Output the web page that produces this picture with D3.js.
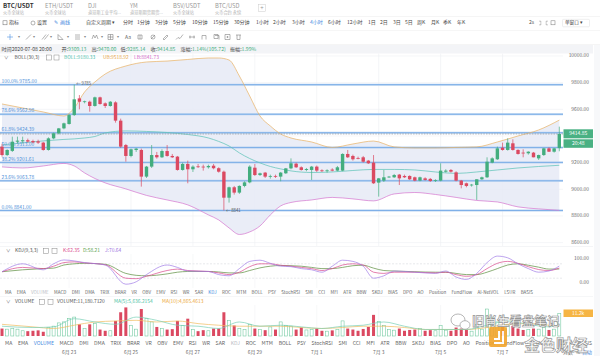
<!DOCTYPE html>
<html><head><meta charset="utf-8">
<script src="https://cdn.jsdelivr.net/npm/d3@7"></script>
<style>
html,body{margin:0;padding:0;background:#fff;}
svg{display:block;font-family:"Noto Sans CJK SC","Noto Sans",sans-serif;}
</style></head><body>
<svg id="c" width="600" height="356"></svg>
<script>
// ---------------- DATA ----------------
// 4h candles, 2020-06-20 20:00 .. 2020-07-08 20:00  [open, high, low, close]
const ohlc = [
[9320,9340,9245,9257],[9257,9300,9250,9295],[9288,9395,9280,9357],[9357,9395,9345,9365],[9360,9395,9345,9368],
[9368,9380,9350,9358],[9362,9372,9345,9352],[9360,9372,9340,9350],[9350,9356,9290,9295],[9295,9390,9290,9382],
[9382,9425,9375,9420],[9420,9460,9412,9457],[9457,9500,9450,9495],[9490,9565,9485,9557],[9557,9785,9550,9675],
[9682,9707,9600,9657],[9655,9665,9645,9660],[9657,9665,9582,9625],[9625,9695,9620,9690],[9690,9695,9635,9640],
[9645,9652,9610,9625],[9625,9662,9620,9657],[9652,9660,9500,9515],[9515,9530,9310,9320],[9332,9340,9207,9250],
[9250,9305,9240,9300],[9295,9310,9280,9305],[9295,9305,9020,9095],[9095,9175,9085,9170],[9170,9332,9160,9257],
[9257,9280,9230,9240],[9240,9300,9235,9287],[9287,9332,9245,9250],[9250,9265,9235,9240],[9245,9250,9140,9145],
[9145,9200,9140,9190],[9190,9215,9045,9150],[9150,9180,9130,9170],[9172,9190,9160,9168],[9170,9185,9140,9165],
[9165,9185,9155,9175],[9177,9190,9150,9158],[9158,9165,9125,9132],[9132,9140,8841,8937],[8937,9020,8900,9015],
[9015,9025,8960,8975],[8975,9030,8965,9025],[9025,9060,9015,9052],[9052,9180,9045,9170],[9162,9190,9100,9107],
[9107,9125,9100,9120],[9125,9130,9085,9095],[9095,9110,9080,9100],[9100,9110,9085,9098],[9095,9130,9060,9125],
[9120,9160,9115,9157],[9157,9232,9150,9195],[9192,9200,9160,9165],[9165,9172,9140,9145],[9145,9160,9135,9152],
[9145,9175,9070,9170],[9170,9178,9130,9140],[9142,9150,9130,9138],[9138,9150,9125,9142],[9148,9158,9135,9140],
[9140,9175,9135,9165],[9140,9270,9135,9265],[9265,9295,9235,9240],[9250,9260,9215,9225],[9235,9245,9225,9232],
[9240,9250,9200,9207],[9215,9220,9190,9195],[9200,9257,9040,9045],[9050,9085,8945,9082],[9065,9145,9055,9090],
[9092,9100,9085,9095],[9090,9115,9085,9107],[9110,9115,9032,9082],[9100,9110,9085,9090],[9100,9105,9070,9075],
[9090,9095,9060,9065],[9065,9095,9060,9090],[9082,9090,9065,9070],[9078,9085,9055,9062],[9065,9075,9055,9068],
[9065,9195,9060,9140],[9132,9150,9125,9140],[9145,9152,9125,9132],[9127,9135,9060,9065],[9065,9070,9007,9032],
[9045,9050,9015,9025],[9030,9040,9020,9035],[9032,9075,8920,9075],[9075,9095,9070,9090],[9090,9240,9085,9207],
[9200,9240,9195,9232],[9225,9320,9220,9307],[9312,9350,9290,9295],[9295,9382,9290,9350],[9345,9375,9290,9295],
[9295,9300,9260,9265],[9275,9300,9240,9270],[9270,9285,9260,9282],[9275,9280,9240,9240],[9232,9260,9220,9257],
[9257,9310,9250,9307],[9307,9315,9280,9282],[9282,9310,9275,9307],[9309.13,9470,9285.14,9414.85]
];
const volume = [
3700,3400,3700,3400,2600,2400,2600,2800,2100,4200,4900,6500,7000,8600,9400,5800,3700,5800,6200,3200,
2600,2600,7500,11800,14200,5300,3400,13400,8600,7000,4500,3700,3200,3400,7500,5300,8600,3200,2400,2900,
2600,3700,3700,11800,7800,5200,3700,3200,5800,3700,3200,2900,4500,3200,7000,5300,4900,3200,4200,3000,
3200,3700,2600,2400,2800,3200,7500,3700,3200,2600,3500,4500,10500,7200,5300,3200,2900,3700,2600,3000,
3200,3700,2600,2900,2600,5300,2900,2600,4200,3700,3000,2400,5800,3400,13400,9400,7000,4500,5500,5000,
3700,3000,3200,3700,3400,4200,3000,3400,11180
];
const bollIdx   = [0,4,8,12,14,16,18,20,24,28,32,36,40,42,44,46,48,50,52,54,56,60,64,68,72,76,80,84,88,92,96,100,104,108];
const bollUpper = [9640,9610,9580,9550,9610,9730,9805,9865,9925,9955,9962,9974,9985,9985,9970,9850,9700,9550,9475,9415,9385,9355,9314,9340,9362,9318,9310,9310,9314,9318,9355,9400,9445,9519];
const bollMid   = [9333,9348,9363,9374,9378,9385,9396,9423,9438,9434,9426,9411,9385,9359,9325,9273,9231,9198,9171,9153,9138,9126,9130,9141,9149,9149,9145,9130,9119,9130,9145,9160,9171,9180];
const bollLower = [9168,9160,9175,9194,9175,9123,9081,9048,9003,8954,8920,8883,8808,8770,8710,8661,8680,8725,8808,8875,8901,8920,8939,8928,8913,8965,8976,8961,8939,8916,8905,8868,8853,8842];
// KDJ(9,3,3) sampled
const kdjIdx = [0,4,8,10,12,14,16,20,24,26,28,32,34,36,40,42,44,46,48,50,52,54,56,58,60,62,64,66,68,70,72,74,76,80,84,86,88,90,92,94,96,98,100,102,104,106,108];
const kdjK = [47,65,60,70,85,88,84,76,20,18,28,52,58,52,48,42,35,45,68,80,80,74,70,65,60,52,60,75,80,75,45,40,45,45,42,45,35,28,35,60,82,90,82,68,56,52,62.35];
const kdjD = [47,55,60,62,75,80,82,78,40,32,30,38,45,48,48,46,42,42,52,63,70,73,72,70,65,60,60,65,72,74,62,52,50,47,45,45,40,35,35,45,60,75,80,74,66,58,58.21];
const kdjJ = [47,80,55,80,96,92,85,75,-5,5,35,75,65,50,48,35,30,60,90,95,82,70,68,60,55,45,70,95,90,70,20,30,50,45,40,50,25,15,40,85,112,105,80,60,45,50,70.64];
// volume MA lines sampled
const vmaIdx = [0,6,10,14,18,22,26,30,34,38,42,46,50,54,58,62,66,70,74,78,82,86,90,94,98,102,106,108];
const vma5  = [4860,4200,4540,8590,6970,5800,9400,7780,5350,4860,3730,6970,4860,5350,4540,3730,4860,5350,6970,4860,3240,3240,3240,5350,7450,5800,4540,5636];
const vma10 = [5800,4540,3730,5350,6970,7450,7780,6970,7450,6160,5350,4860,4860,4860,4210,3730,4210,4860,4860,4210,3240,3240,3240,4210,5800,6160,5350,4865];
// fibonacci levels
const fibValues = [9785,9562.98,9424.39,9313,9201.61,9063.78,8841];
const fibLabels = ["100.0% 9785.00","78.6% 9562.98","61.8% 9424.39","50.0% 9313.00","38.2% 9201.61","23.6% 9063.78","0.0% 8841.00"];
const priceTicks = [10000,9800,9600,9400,9200,9000,8800,8600];
const dateTickIdx = [13,25,37,49,61,73,85,97];
const dateTickLabels = ["6月 23","6月 25","6月 27","6月 29","7月 1","7月 3","7月 5","7月 7"];
const tabs = [["BTC/USDT","火币全球站"],["ETH/USDT","火币全球站"],["DJI","道琼斯工业平均..."],["YM","道琼斯期货期货..."],["BSV/USDT","火币全球站"],["BTC/USD","火币合约 永续"]];
const periods = ["分时","1分钟","3分钟","5分钟","10分钟","15分钟","30分钟","1小时","2小时","3小时","4小时","6小时","12小时","1日","2日","3日","5日","周K","月K","季K","年K"];
const indicators = ["MA","EMA","VOLUME","MACD","DMI","DMA","TRIX","BRAR","VR","OBV","EMV","RSI","WR","SAR","KDJ","ROC","MTM","BOLL","PSY","StochRSI","SMI","CCI","MFI","ATR","BBW","SKDJ","BIAS","DPO","AO","Position","FundFlow","AI-NetVOL","LSUR","BASIS"];

// ---------------- DRAW ----------------
const svg = d3.select("#c");
const GREEN = "#43ad7e", RED = "#db4961", BLUE = "#3f8ae0", GREY = "#8a8f99", DARK = "#4a4f59";
const x = d3.scaleLinear().domain([0,108]).range([2,559.3]);
const y = d3.scaleLinear().domain([8600,10000]).range([242.6,56]);
const yk = d3.scaleLinear().domain([0,100]).range([283,259]);
const yv = d3.scaleLinear().domain([0,11180]).range([336,313.5]);
const PR = 563; // plot right edge

function txt(g, x0, y0, s, o={}) {
  return g.append("text").attr("x",x0).attr("y",y0).text(s)
    .attr("font-size",o.size||5).attr("fill",o.fill||DARK)
    .attr("font-weight",o.weight||"normal")
    .attr("text-anchor",o.anchor||"start").attr("dominant-baseline","middle");
}

svg.append("rect").attr("width",600).attr("height",356).attr("fill","#fff");

// ---- tabs
const hdr = svg.append("g");
const tabX = [3,45,88,130,173,215];
tabs.forEach((t,i)=>{
  txt(hdr, tabX[i], 6, t[0], {size:i===0?6.2:5.8, fill:i===0?"#333":"#999", weight:i===0?"bold":"normal"});
  txt(hdr, tabX[i], 12.5, t[1], {size:4.2, fill:"#b0b0b0"});
});
hdr.append("rect").attr("x",258.5).attr("y",4.5).attr("width",7).attr("height",7).attr("fill","#fff").attr("stroke","#ccc").attr("stroke-width",0.5);
txt(hdr,262,8.2,"+",{size:6,fill:"#999",anchor:"middle"});
hdr.append("line").attr("x1",0).attr("x2",600).attr("y1",16.5).attr("y2",16.5).attr("stroke","#eee").attr("stroke-width",0.6);

// ---- toolbar
const tb = svg.append("g");
tb.append("rect").attr("x",3).attr("y",20.8).attr("width",4).attr("height",4).attr("fill","none").attr("stroke","#666").attr("stroke-width",0.5);
txt(tb,9,23,"指标",{size:5,fill:"#444"});
tb.append("circle").attr("cx",33).attr("cy",23).attr("r",2).attr("fill","none").attr("stroke","#666").attr("stroke-width",0.5);
txt(tb,37,23,"设置",{size:5,fill:"#444"});
txt(tb,54,23,"✎",{size:5,fill:BLUE});
txt(tb,60,23,"画线",{size:5,fill:BLUE});
txt(tb,86,23,"自定义周期 ▾",{size:5,fill:"#444"});
const periodX = [123,137,155,173,192,213,234,256,273,292,310,328,347,368,380,393,405,417,431,443,457];
periods.forEach((p,i)=>txt(tb,periodX[i],23,p,{size:5,fill:p==="4小时"?BLUE:"#444"}));
txt(tb,529,23,"2s",{size:5,fill:"#555"});
tb.append("path").attr("d","M540,20.5v1.5h1.5 M547,20.5v1.5h-1.5 M540,25.5v-1.5h1.5 M547,25.5v-1.5h-1.5").attr("stroke","#777").attr("stroke-width",0.5).attr("fill","none");
tb.append("rect").attr("x",551).attr("y",20.8).attr("width",4).attr("height",4).attr("fill","none").attr("stroke","#777").attr("stroke-width",0.5);
tb.append("rect").attr("x",562.5).attr("y",19.3).attr("width",27).attr("height",7.5).attr("rx",1).attr("fill","#fff").attr("stroke","#ddd").attr("stroke-width",0.5);
txt(tb,565,23.1,"单窗口 ▾",{size:4.6,fill:"#444"});
tb.append("line").attr("x1",0).attr("x2",600).attr("y1",30.5).attr("y2",30.5).attr("stroke","#f0f0f0").attr("stroke-width",0.6);

// ---- drawing tools row
const dt = svg.append("g").attr("fill","none").attr("stroke","#777").attr("stroke-width",0.55);
dt.append("path").attr("d","M10,34v6 M7,37h6").attr("stroke",BLUE);
dt.append("path").attr("d","M26,39.5l5,-5 M42,39.5l4,-5 M44.5,39.5l4,-5 M58,39.5h5l-5,-5z M75,35h5 M75,37h5 M75,39h5 M92,39l1.5,-4l1.5,3l1.5,-3l1.5,4 M108,34.5h5v5h-5z M110.5,34.5v5 M108,37h5");
[18,33,50,67,84,101,117].forEach(xx=>svg.append("text").attr("x",xx).attr("y",37.5).text("▾").attr("font-size",3.5).attr("fill","#888").attr("dominant-baseline","middle"));
txt(svg,125,37.3,"Aa",{size:5,fill:"#666"});
dt.append("path").attr("d","M138,35h4v4h-4z M140,35v4 M151,37a2,2 0 1,0 4,0a2,2 0 1,0 -4,0 M151,39l4,-4 M163,39l4,-4l1,1l-4,4z M176,39.5l2,-2l2,1l3,-4 M189,37h6 M190,35.5v3 M194,35.5v3 M202,39.5v-4h4v4 M214,34.5h4v4h-4z M215,35.5h4v4 M225,34.5h5v5h-5z M227,36.5h1v1h-1z M236,35h5 M237,35v4.5h3v-4.5");
svg.append("line").attr("x1",0).attr("x2",600).attr("y1",44.5).attr("y2",44.5).attr("stroke","#eee").attr("stroke-width",0.6);

// ---- info row
svg.append("rect").attr("x",0).attr("y",45).attr("width",593).attr("height",8.5).attr("fill","#f3f4f7");
const info = svg.append("g");
txt(info,1.5,49.5,"时间2020-07-08 20:00",{size:5.1,fill:"#444"});
const infoItems = [["开:","9309.13",61.5],["高:","9470.00",91.5],["低:","9285.14",120.5],["收:","9414.85",150.5],["涨幅:","1.14%(105.72)",180.5],["振幅:","1.99%",230]];
infoItems.forEach(d=>{
  const t = info.append("text").attr("x",d[2]).attr("y",49.5).attr("font-size",5.1).attr("dominant-baseline","middle");
  t.append("tspan").text(d[0]).attr("fill","#444");
  t.append("tspan").text(d[1]).attr("fill",GREEN);
});

// ---- main chart
const main = svg.append("g");
main.append("clipPath").attr("id","mc").append("rect").attr("x",0).attr("y",53.5).attr("width",PR).attr("height",193);
const mg = main.append("g").attr("clip-path","url(#mc)");
// grid
priceTicks.forEach(p=>mg.append("line").attr("x1",0).attr("x2",PR).attr("y1",y(p)).attr("y2",y(p)).attr("stroke","#eef0f3").attr("stroke-width",0.6));
dateTickIdx.forEach(i=>mg.append("line").attr("x1",x(i)).attr("x2",x(i)).attr("y1",53.5).attr("y2",246).attr("stroke","#eceef2").attr("stroke-width",0.6));
// boll band fill
const bpts = bollIdx.map((d,i)=>({i:d,u:bollUpper[i],m:bollMid[i],l:bollLower[i]}));
mg.append("path").datum(bpts).attr("fill","#e6eaf6").attr("opacity",0.85)
  .attr("d",d3.area().x(d=>x(d.i)).y0(d=>y(d.l)).y1(d=>y(d.u)).curve(d3.curveMonotoneX));
// fib lines
fibValues.forEach((v,i)=>{
  mg.append("line").attr("x1",0).attr("x2",PR).attr("y1",y(v)).attr("y2",y(v)).attr("stroke","#b9d3f1").attr("stroke-width",2);
  mg.append("line").attr("x1",0).attr("x2",PR).attr("y1",y(v)).attr("y2",y(v)).attr("stroke","#6fa6e4").attr("stroke-width",0.8);
});
// boll lines
const bl = (k,c)=>mg.append("path").datum(bpts).attr("fill","none").attr("stroke",c).attr("stroke-width",0.75)
  .attr("d",d3.line().x(d=>x(d.i)).y(d=>y(d[k])).curve(d3.curveMonotoneX));
bl("u","#eab66c"); bl("m","#62c4ba"); bl("l","#d77ed2");
// current price dashed
mg.append("line").attr("x1",0).attr("x2",PR).attr("y1",y(9414.85)).attr("y2",y(9414.85)).attr("stroke","#8c8c8c").attr("stroke-width",0.6).attr("stroke-dasharray","1.5,1.2");
// fib labels
fibValues.forEach((v,i)=>txt(mg,1.5,y(v)-3.2,fibLabels[i],{size:4.9,fill:"#4b8ed8"}));
// candles
const cg = mg.append("g");
ohlc.forEach((d,i)=>{
  const [o,h,l,c] = d; const col = c>=o?GREEN:RED; const cx = x(i);
  cg.append("line").attr("x1",cx).attr("x2",cx).attr("y1",y(h)).attr("y2",y(l)).attr("stroke",col).attr("stroke-width",0.7);
  const top = y(Math.max(o,c)), bh = Math.max(0.8, Math.abs(y(o)-y(c)));
  cg.append("rect").attr("x",cx-1.7).attr("y",top).attr("width",3.4).attr("height",bh).attr("fill",col);
});
// high/low markers
txt(mg,x(14)+2,y(9785)-0.5,"← 9785",{size:4.3,fill:"#555"});
txt(mg,x(43)+2,y(8841)+0.5,"← 8841",{size:4.3,fill:"#555"});
// BOLL legend row
txt(svg,4,57.3,"∨",{size:4.5,fill:"#777"});
txt(svg,14.5,57.3,"BOLL(30,3)",{size:4.9,fill:"#555"});
[46.5,54].forEach(xx=>svg.append("rect").attr("x",xx).attr("y",55).attr("width",5).attr("height",5).attr("fill","#fff").attr("stroke","#888").attr("stroke-width",0.5));
txt(svg,64,57.3,"BOLL:9180.33",{size:4.9,fill:"#4fbfae"});
txt(svg,103,57.3,"UB:9518.92",{size:4.9,fill:"#e9a94d"});
txt(svg,134,57.3,"LB:8841.73",{size:4.9,fill:"#d36bc9"});
// right axis
priceTicks.forEach(p=>txt(svg,589,y(p),p.toFixed(2),{size:4.9,fill:"#666",anchor:"end"}));
svg.append("rect").attr("x",563.5).attr("y",129.3).attr("width",29.5).attr("height",9).attr("fill","#49b183");
txt(svg,578.2,133.9,"9414.85",{size:5,fill:"#fff",anchor:"middle"});
svg.append("rect").attr("x",563.5).attr("y",139.3).attr("width",29.5).attr("height",8.5).attr("fill","#49b183");
txt(svg,578.2,143.6,"20:48",{size:5,fill:"#fff",anchor:"middle"});
svg.append("line").attr("x1",0).attr("x2",593).attr("y1",246.5).attr("y2",246.5).attr("stroke","#eceef1").attr("stroke-width",0.6);

// ---- KDJ panel
const kg = svg.append("g");
txt(kg,6,251,"∨",{size:4.5,fill:"#777"});
txt(kg,15,251,"KDJ(9,3,3)",{size:4.9,fill:"#555"});
[43.5,52].forEach(xx=>kg.append("rect").attr("x",xx).attr("y",248.6).attr("width",5).attr("height",5).attr("fill","#fff").attr("stroke","#888").attr("stroke-width",0.5));
txt(kg,63,251,"K:62.35",{size:4.9,fill:"#d9488b"});
txt(kg,83,251,"D:58.21",{size:4.9,fill:"#58a04a"});
txt(kg,105,251,"J:70.64",{size:4.9,fill:"#9a6fe0"});
[80,20].forEach(v=>kg.append("line").attr("x1",0).attr("x2",PR).attr("y1",yk(v)).attr("y2",yk(v)).attr("stroke","#cfd2d8").attr("stroke-width",0.5).attr("stroke-dasharray","2,1.5"));
dateTickIdx.forEach(i=>kg.append("line").attr("x1",x(i)).attr("x2",x(i)).attr("y1",254).attr("y2",288).attr("stroke","#eef0f3").attr("stroke-width",0.5));
txt(kg,589,259,"100.00",{size:4.9,fill:"#666",anchor:"end"});
txt(kg,589,282.7,"0.00",{size:4.9,fill:"#666",anchor:"end"});
const kl = (arr,c)=>kg.append("path").datum(kdjIdx.map((d,i)=>[d,arr[i]])).attr("fill","none").attr("stroke",c).attr("stroke-width",0.7)
  .attr("d",d3.line().x(d=>x(d[0])).y(d=>yk(d[1])).curve(d3.curveMonotoneX));
kl(kdjD,"#5a8d3c"); kl(kdjK,"#d9488b"); kl(kdjJ,"#a07be6");

// ---- indicator rows
function row(yy, start, end, size, activeWord, dimWord) {
  const g = svg.append("g");
  const ts = indicators.map(w=>txt(g,0,yy,w,{size:size,fill:w===activeWord?BLUE:(w===dimWord?"#b8bcc4":"#666")}));
  const widths = ts.map(t=>t.node().getComputedTextLength());
  const tot = d3.sum(widths); const gap = (end-start-tot)/(indicators.length-1);
  let cx = start; ts.forEach((t,i)=>{t.attr("x",cx); cx += widths[i]+gap;});
}
row(292.7, 5, 533, 4.5, "KDJ", "VOLUME");
svg.append("line").attr("x1",0).attr("x2",593).attr("y1",296.5).attr("y2",296.5).attr("stroke","#f0f1f4").attr("stroke-width",0.6);

// ---- volume panel
const vg = svg.append("g");
txt(vg,6,301.7,"∨",{size:4.5,fill:"#777"});
txt(vg,15,301.7,"VOLUME",{size:4.9,fill:"#555"});
[39.5,48].forEach(xx=>vg.append("rect").attr("x",xx).attr("y",299.3).attr("width",5).attr("height",5).attr("fill","#fff").attr("stroke","#888").attr("stroke-width",0.5));
txt(vg,57,301.7,"VOLUME:11,180.7120",{size:4.9,fill:"#555"});
txt(vg,114,301.7,"MA(5):5,636.2154",{size:4.9,fill:"#4fc3a6"});
txt(vg,162,301.7,"MA(10):4,865.4613",{size:4.9,fill:"#eda93c"});
dateTickIdx.forEach(i=>vg.append("line").attr("x1",x(i)).attr("x2",x(i)).attr("y1",305).attr("y2",337).attr("stroke","#eef0f3").attr("stroke-width",0.5));
volume.forEach((v,i)=>{
  const [o,,,c] = ohlc[i]; const up = c>=o;
  const r = vg.append("rect").attr("x",x(i)-1.5).attr("y",yv(v)).attr("width",3).attr("height",yv(0)-yv(v));
  if (up) r.attr("fill","#fff").attr("stroke","#6cc79c").attr("stroke-width",0.55);
  else r.attr("fill",RED);
});
const vl = (arr,c)=>vg.append("path").datum(vmaIdx.map((d,i)=>[d,arr[i]])).attr("fill","none").attr("stroke",c).attr("stroke-width",0.7)
  .attr("d",d3.line().x(d=>x(d[0])).y(d=>yv(d[1])).curve(d3.curveMonotoneX));
vl(vma10,"#f0bc5e"); vl(vma5,"#78d0b6");
svg.append("rect").attr("x",563.5).attr("y",309.5).attr("width",29.5).attr("height",7.5).attr("fill","#f6b544");
txt(svg,578.2,313.4,"11.2k",{size:4.9,fill:"#fff",anchor:"middle"});

row(343.3, 5, 592, 5.1, "VOLUME", "KDJ");

// ---- date axis
dateTickIdx.forEach((d,i)=>txt(svg,x(d),352.3,dateTickLabels[i],{size:4.9,fill:"#666",anchor:"middle"}));
txt(svg,563,352.3,"对数",{size:4.9,fill:"#666"});
txt(svg,575.5,352.3,"%",{size:4.9,fill:"#666"});
txt(svg,582,352.3,"自动",{size:4.9,fill:BLUE});

// right scrollbar strip
svg.append("rect").attr("x",594).attr("y",45).attr("width",6).attr("height",311).attr("fill","#f7f8fa");

// ---- watermark
const wm = svg.append("g").attr("opacity",0.9);
wm.append("ellipse").attr("cx",458).attr("cy",320).attr("rx",7).attr("ry",6).attr("fill","#fff").attr("stroke","#9a9a9a").attr("stroke-width",0.8);
wm.append("ellipse").attr("cx",465).attr("cy",325).attr("rx",5).attr("ry",4.3).attr("fill","#fff").attr("stroke","#9a9a9a").attr("stroke-width",0.8);
wm.append("text").attr("x",472).attr("y",326).text("旧肖生看盘笔记").attr("font-size",12.5).attr("fill","#fff").attr("stroke","#8c8c8c").attr("stroke-width",0.7).attr("font-weight","bold");
wm.append("rect").attr("x",489).attr("y",327).attr("width",18).attr("height",20).attr("rx",2).attr("fill","#f2a52c");
wm.append("path").attr("d","M499,331v8h-5 M503,331v12h-9").attr("stroke","#fff").attr("stroke-width",2).attr("fill","none");
wm.append("text").attr("x",524).attr("y",351).text("金色财经").attr("font-size",16).attr("fill","#fff").attr("stroke","#8c8c8c").attr("stroke-width",0.7).attr("font-weight","bold");
</script>
</body></html>
